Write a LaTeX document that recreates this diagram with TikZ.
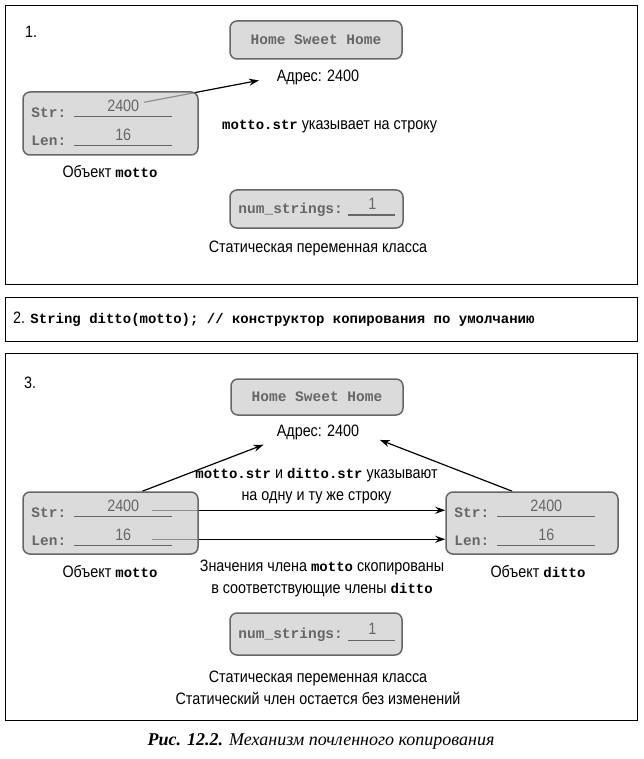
\documentclass[tikz,border=0pt]{standalone}
\usepackage{fontspec}
\setmainfont{Liberation Sans}[FakeStretch=0.87]
\setmonofont{Liberation Mono}
\newfontfamily\capfont{Liberation Serif}
\usetikzlibrary{arrows.meta,calc}
\pgfdeclarelayer{bg}
\pgfsetlayers{bg,main}
\definecolor{boxfill}{gray}{0.80}
\definecolor{boxline}{gray}{0.40}
\definecolor{boxtext}{gray}{0.40}
\newcommand\code[1]{{\fontsize{14}{16}\selectfont\ttfamily\bfseries #1}}
\tikzset{
  panel/.style={draw=black, line width=1.4pt, inner sep=0pt, anchor=north west},
  membox/.style={draw=boxline, line width=1.5pt, rounded corners=7pt, fill=boxfill,
    fill opacity=0.7, text opacity=1, inner sep=0pt},
  boxmono/.style={font=\fontsize{14.5}{16}\selectfont\ttfamily\bfseries, text=boxtext, inner sep=0pt},
  boxnum/.style={font=\fontsize{16.5}{18}\selectfont, text=boxtext, inner sep=0pt},
  lbl/.style={font=\fontsize{16.5}{22}\selectfont, align=center, inner sep=0pt},
  uline/.style={draw=boxtext, line width=1pt},
  arr/.style={-{Stealth[length=10pt,width=7pt]}, line width=1.2pt},
}
\newcommand\objfields[3]{%
  \node[boxmono, anchor=west] (#1str) at ($(#1.north west)+(9,21)$) {Str:};
  \draw[uline] ($(#1.north west)+(52,25)$) -- ($(#1.north west)+(150,25)$);
  \node[boxnum] (#1sv) at ($(#1.north west)+(101,15)$) {#2};
  \node[boxmono, anchor=west] (#1len) at ($(#1.north west)+(9,50)$) {Len:};
  \draw[uline] ($(#1.north west)+(52,54)$) -- ($(#1.north west)+(150,54)$);
  \node[boxnum] (#1lv) at ($(#1.north west)+(101,44)$) {#3};
}
\newcommand\numfields[1]{%
  \node[boxmono, anchor=west] (#1txt) at ($(#1.west)+(9,1)$) {num\_strings:};
  \draw[uline] ($(#1.west)+(119,6)$) -- ($(#1.west)+(166,6)$);
  \node[boxnum] (#1val) at ($(#1.west)+(143,-5)$) {1};
}
\begin{document}
\begin{tikzpicture}[x=1pt,y=-1pt]
\useasboundingbox (0,0) rectangle (643,759);
% panels
\node[panel, minimum width=632pt, minimum height=279pt] (panel1) at (5,5) {};
\node[panel, minimum width=632pt, minimum height=44pt] (panel2) at (5,297) {};
\node[panel, minimum width=632pt, minimum height=367pt] (panel3) at (5,353) {};

% ---------- panel 1
\node[lbl, anchor=west] (n1) at (25,32) {1.};
\node[membox, boxmono, minimum width=172pt, minimum height=38pt] (home1) at (316,40) {Home Sweet Home};
\node[lbl] (addr1) at (318,77) {Адрес: 2400};
\node[membox, minimum width=175pt, minimum height=63pt] (motto1) at (110.5,123.5) {};
\objfields{motto1}{2400}{16}
\node[lbl] (obj1) at (110,172) {Объект \code{motto}};
\node[lbl, anchor=west] (pt1) at (222,127) {\code{motto.str} указывает на строку};
\node[membox, minimum width=173pt, minimum height=38pt] (num1) at (316.5,209) {};
\numfields{num1}
\node[lbl] (st1) at (318,248) {Статическая переменная класса};
\coordinate (m1s) at ($(motto1.north west)+(122,11)$);
\begin{pgfonlayer}{bg}
  \draw[arr, shorten >=18pt] (m1s) -- (addr1.west);
\end{pgfonlayer}

% ---------- panel 2
\node[lbl, anchor=west] (p2t) at (13,319) {2. \code{String ditto(motto); // конструктор копирования по умолчанию}};

% ---------- panel 3
\node[lbl, anchor=west] (n3) at (24,383) {3.};
\node[membox, boxmono, minimum width=172pt, minimum height=36pt] (home3) at (317,397) {Home Sweet Home};
\node[lbl] (addr3) at (318,432) {Адрес: 2400};
\node[lbl] (pt3) at (316.5,486) {\code{motto.str} и \code{ditto.str} указывают\\на одну и ту же строку};
\node[membox, minimum width=175pt, minimum height=62pt] (motto3) at (110.5,523) {};
\objfields{motto3}{2400}{16}
\node[membox, minimum width=172pt, minimum height=62pt] (ditto3) at (532,523) {};
\objfields{ditto3}{2400}{16}
\node[lbl] (obj3m) at (110,572) {Объект \code{motto}};
\node[lbl] (obj3d) at (538,572) {Объект \code{ditto}};
\node[lbl] (cp3) at (322,578) {Значения члена \code{motto} скопированы\\в соответствующие члены \code{ditto}};
\node[membox, minimum width=172pt, minimum height=42pt] (num3) at (316,634) {};
\numfields{num3}
\node[lbl] (st3) at (318,687.5) {Статическая переменная класса\\Статический член остается без изменений};
\coordinate (m3s) at ($(motto3.north west)+(120,0)$);
\coordinate (d3s) at ($(ditto3.north west)+(67,0)$);
\coordinate (m3a) at ($(motto3.north west)+(130,19)$);
\coordinate (m3b) at ($(motto3.north west)+(130,48)$);
\begin{pgfonlayer}{bg}
  \draw[arr, shorten >=14pt] (m3s) -- (addr3.south west);
  \draw[arr, shorten >=22pt] (d3s) -- (addr3.east);
  \draw[arr] (m3a) -- (m3a -| ditto3.west);
  \draw[arr] (m3b) -- (m3b -| ditto3.west);
\end{pgfonlayer}

% caption
\node[font=\fontsize{18}{21}\selectfont\capfont\itshape, inner sep=0pt] (caption) at (321,741)
  {\textbf{Рис. 12.2.} Механизм почленного копирования};
\end{tikzpicture}
\end{document}
